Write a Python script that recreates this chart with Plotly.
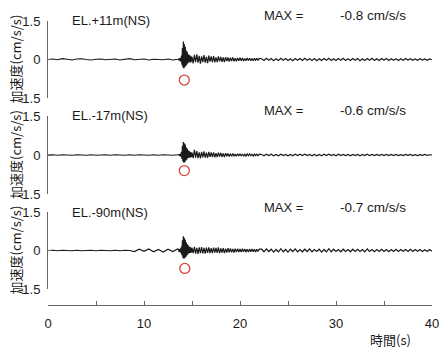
import numpy as np
import plotly.graph_objects as go

# ---------------- data ----------------
# sampling segments (start time, step) -- samples follow the value lists below
SEG_QUIET = (0.0, 0.5)
SEG_BURST = (13.6, 0.05)
SEG_CODA = (15.125, 0.125)
SEG_TAIL = (22.25, 0.25)

labels = ["EL.+11m(NS)", "EL.-17m(NS)", "EL.-90m(NS)"]
max_values = [-0.8, -0.6, -0.7]
max_texts = ["-0.8 cm/s/s", "-0.6 cm/s/s", "-0.7 cm/s/s"]
max_times = [14.2, 14.2, 14.25]

acc1_quiet = [0.0, 0.02, -0.01, 0.03, 0.01, -0.02, 0.02, 0.03, 0.0, -0.02, 0.01, 0.02, -0.01, 0.0,
              0.02, -0.02, 0.01, 0.03, -0.01, 0.0, 0.02, -0.02, 0.01, 0.0, -0.01, 0.02, -0.02, 0.01]
acc1_burst = [0.02, -0.03, 0.04, -0.05, 0.06, -0.08, 0.15, -0.2, 0.45, -0.3, 0.7, -0.35, 0.6, -0.3,
              0.5, -0.25, 0.35, -0.2, 0.3, -0.15, 0.2, -0.12, 0.18, -0.1, 0.15, -0.12, 0.12, -0.08, 0.1]
acc1_coda = [-0.15, 0.18, -0.1, 0.2, -0.12, 0.14, -0.16, 0.12,
             -0.1, 0.17, -0.12, 0.1, -0.14, 0.15, -0.08, 0.12,
             -0.1, 0.13, -0.11, 0.08, -0.1, 0.12, -0.07, 0.1,
             -0.09, 0.08, -0.1, 0.09, -0.06, 0.08, -0.08, 0.07,
             -0.06, 0.08, -0.07, 0.05, -0.07, 0.06, -0.05, 0.07,
             -0.05, 0.06, -0.06, 0.04, -0.05, 0.06, -0.04, 0.05,
             -0.05, 0.04, -0.05, 0.05, -0.03, 0.05, -0.04, 0.04]
acc1_tail = [0.03, -0.04, 0.05, -0.03, 0.04, -0.05, 0.03, -0.04,
             0.05, -0.03, 0.04, -0.04, 0.03, -0.05, 0.04, -0.03,
             0.04, -0.04, 0.05, -0.03, 0.03, -0.04, 0.04, -0.05,
             0.03, -0.04, 0.04, -0.03, 0.05, -0.04, 0.03, -0.04,
             0.04, -0.03, 0.05, -0.04, 0.03, -0.04, 0.04, -0.03,
             0.04, -0.05, 0.03, -0.04, 0.04, -0.03, 0.05, -0.04,
             0.03, -0.04, 0.04, -0.03, 0.04, -0.04, 0.03, -0.03,
             0.03, -0.04, 0.03, -0.03, 0.04, -0.02, 0.03, -0.03,
             0.02, -0.03, 0.03, -0.02, 0.02, -0.03, 0.02, -0.01]

acc2_quiet = [0.0, 0.01, -0.01, 0.01, 0.0, -0.01, 0.01, 0.0, -0.01, 0.01, -0.01, 0.0, 0.01, -0.01,
              0.01, 0.0, -0.01, 0.01, -0.01, 0.01, 0.0, -0.01, 0.01, -0.01, 0.01, 0.0, -0.01, 0.01]
acc2_burst = [0.01, -0.02, 0.03, -0.04, 0.05, -0.06, 0.12, -0.15, 0.35, -0.25, 0.5, -0.3, 0.45, -0.28,
              0.4, -0.22, 0.3, -0.18, 0.25, -0.12, 0.18, -0.1, 0.15, -0.09, 0.12, -0.1, 0.1, -0.07, 0.09]
acc2_coda = [-0.12, 0.2, -0.1, 0.15, -0.12, 0.1, -0.13, 0.12,
             -0.09, 0.14, -0.1, 0.09, -0.11, 0.12, -0.07, 0.1,
             -0.08, 0.1, -0.09, 0.07, -0.08, 0.09, -0.06, 0.08,
             -0.07, 0.06, -0.08, 0.07, -0.05, 0.06, -0.06, 0.05,
             -0.05, 0.06, -0.05, 0.04, -0.05, 0.05, -0.04, 0.05,
             -0.04, 0.04, -0.05, 0.03, -0.04, 0.04, -0.03, 0.04,
             -0.03, 0.03, -0.04, 0.03, -0.02, 0.03, -0.03, 0.03]
acc2_tail = [0.02, -0.03, 0.03, -0.02, 0.03, -0.03, 0.02, -0.03,
             0.03, -0.02, 0.02, -0.03, 0.02, -0.03, 0.03, -0.02,
             0.03, -0.02, 0.03, -0.02, 0.02, -0.03, 0.02, -0.03,
             0.02, -0.03, 0.03, -0.02, 0.03, -0.02, 0.02, -0.03,
             0.03, -0.02, 0.02, -0.02, 0.02, -0.03, 0.02, -0.02,
             0.02, -0.03, 0.02, -0.02, 0.03, -0.02, 0.02, -0.02,
             0.02, -0.02, 0.02, -0.02, 0.02, -0.02, 0.02, -0.02,
             0.02, -0.02, 0.01, -0.02, 0.02, -0.01, 0.02, -0.02,
             0.01, -0.02, 0.01, -0.01, 0.02, -0.01, 0.01, 0.0]

acc3_quiet = [0.0, 0.01, -0.01, 0.01, 0.0, -0.01, 0.01, -0.01, 0.0, 0.01, -0.01, 0.01, 0.0, -0.01,
              0.01, -0.01, 0.01, 0.0, -0.04, 0.05, -0.03, 0.06, -0.05, 0.04, -0.06, 0.05, -0.04, 0.06]
acc3_burst = [0.04, -0.05, 0.05, -0.06, 0.08, -0.1, 0.15, -0.18, 0.4, -0.28, 0.55, -0.32, 0.5, -0.3,
              0.42, -0.25, 0.32, -0.2, 0.25, -0.15, 0.2, -0.12, 0.15, -0.1, 0.13, -0.1, 0.11, -0.08, 0.1]
acc3_coda = [-0.1, 0.14, -0.12, 0.1, -0.13, 0.12, -0.1, 0.13,
             -0.11, 0.1, -0.12, 0.11, -0.09, 0.12, -0.1, 0.09,
             -0.1, 0.11, -0.08, 0.1, -0.09, 0.12, -0.1, 0.08,
             -0.08, 0.09, -0.1, 0.07, -0.08, 0.09, -0.07, 0.08,
             -0.07, 0.06, -0.08, 0.07, -0.06, 0.07, -0.06, 0.06,
             -0.06, 0.07, -0.05, 0.06, -0.06, 0.05, -0.06, 0.06,
             -0.05, 0.06, -0.05, 0.05, -0.06, 0.05, -0.04, 0.05]
acc3_tail = [0.05, -0.05, 0.06, -0.04, 0.05, -0.06, 0.04, -0.05,
             0.07, -0.05, 0.04, -0.06, 0.05, -0.04, 0.06, -0.05,
             0.04, -0.05, 0.05, -0.04, 0.06, -0.05, 0.04, -0.04,
             0.05, -0.06, 0.04, -0.05, 0.07, -0.05, 0.05, -0.04,
             0.04, -0.05, 0.05, -0.04, 0.04, -0.05, 0.05, -0.04,
             0.05, -0.04, 0.04, -0.05, 0.06, -0.04, 0.04, -0.05,
             0.04, -0.04, 0.05, -0.04, 0.04, -0.05, 0.04, -0.04,
             0.05, -0.04, 0.04, -0.03, 0.04, -0.04, 0.05, -0.04,
             0.04, -0.03, 0.04, -0.04, 0.03, -0.04, 0.04, -0.03]

x_tickvals = [0, 10, 20, 30, 40]
y_tickvals = [-1.5, 0, 1.5]
y_ticktext = ["-1.5", "0", "1.5"]


def seg_times(seg, vals):
    start, step = seg
    return start + step * np.arange(len(vals))


def build(quiet, burst, coda, tail):
    t = np.concatenate([seg_times(SEG_QUIET, quiet), seg_times(SEG_BURST, burst),
                        seg_times(SEG_CODA, coda), seg_times(SEG_TAIL, tail)])
    v = np.concatenate([quiet, burst, coda, tail])
    return t, v


series = [build(acc1_quiet, acc1_burst, acc1_coda, acc1_tail),
          build(acc2_quiet, acc2_burst, acc2_coda, acc2_tail),
          build(acc3_quiet, acc3_burst, acc3_coda, acc3_tail)]

# ---------------- layout (pixel helpers) ----------------
W, H = 441, 354
px = lambda x: x / W
py = lambda y: 1 - y / H

panel_px = [(21, 98), (116, 194), (212, 289)]
max_row_px = [15, 110, 207]
FONT = "Liberation Sans, Arial, sans-serif"
JFONT = "Noto Sans CJK JP, sans-serif"
INK = "#1a1a1a"
AXC = "#666666"

fig = go.Figure()
yaxes_names = ["y", "y2", "y3"]
for i, (t, v) in enumerate(series):
    fig.add_trace(go.Scatter(x=t, y=v, mode="lines", xaxis="x", yaxis=yaxes_names[i],
                             line=dict(color=INK, width=1.2), hoverinfo="skip", showlegend=False))
    fig.add_trace(go.Scatter(x=[max_times[i]], y=[max_values[i]], mode="markers",
                             xaxis="x", yaxis=yaxes_names[i],
                             marker=dict(symbol="circle-open", size=10,
                                         color="#d9463b", line=dict(width=1.3, color="#d9463b")),
                             showlegend=False, cliponaxis=False))

layout = dict(
    width=W, height=H,
    margin=dict(l=0, r=0, t=0, b=0, pad=0),
    paper_bgcolor="white", plot_bgcolor="white",
    font=dict(family=FONT, size=13, color=INK),
    showlegend=False,
    xaxis=dict(domain=[px(48), px(432)], range=[0, 40], anchor="free", position=py(305),
               automargin=False,
               showline=True, linecolor=AXC, linewidth=1, showgrid=False, zeroline=False,
               tickvals=x_tickvals, ticks="inside", ticklen=4, tickcolor=AXC,
               minor=dict(dtick=5, ticks="inside", ticklen=4, tickcolor=AXC, showgrid=False),
               tickfont=dict(size=13, color=INK, family=FONT), ticklabelstandoff=6),
)
for i, name in enumerate(["yaxis", "yaxis2", "yaxis3"]):
    top, bot = panel_px[i]
    layout[name] = dict(domain=[py(bot), py(top)], range=[-1.5, 1.5], anchor="x",
                        automargin=False,
                        showline=True, linecolor=AXC, linewidth=1, showgrid=False, zeroline=False,
                        tickvals=y_tickvals, ticktext=y_ticktext, ticks="inside", ticklen=4,
                        tickcolor=AXC, tickfont=dict(size=13, color=INK, family=FONT),
                        ticklabelstandoff=4)
fig.update_layout(**layout)

ann = []
for i in range(3):
    top, bot = panel_px[i]
    ann.append(dict(text="加速度(cm/s/s)", x=px(15), y=py((top + bot) / 2), xref="paper", yref="paper",
                    textangle=-90, showarrow=False, xanchor="center", yanchor="middle",
                    font=dict(family=JFONT, size=13, color=INK)))
    ann.append(dict(text=labels[i], x=px(70), y=py(top), xref="paper", yref="paper",
                    showarrow=False, xanchor="left", yanchor="middle",
                    font=dict(family=FONT, size=13, color=INK)))
    ann.append(dict(text="MAX =", x=px(262), y=py(max_row_px[i]), xref="paper", yref="paper",
                    showarrow=False, xanchor="left", yanchor="middle",
                    font=dict(family=FONT, size=13, color=INK)))
    ann.append(dict(text=max_texts[i], x=px(338), y=py(max_row_px[i]), xref="paper", yref="paper",
                    showarrow=False, xanchor="left", yanchor="middle",
                    font=dict(family=FONT, size=13.5, color=INK)))
ann.append(dict(text="時間(s)", x=px(390), y=py(339), xref="paper", yref="paper",
                showarrow=False, xanchor="center", yanchor="middle",
                font=dict(family=JFONT, size=13, color=INK)))
fig.update_layout(annotations=ann)

fig.write_html("out.html", config={"displayModeBar": False},
               post_script="document.body.style.margin='0';document.body.style.overflow='hidden';")
